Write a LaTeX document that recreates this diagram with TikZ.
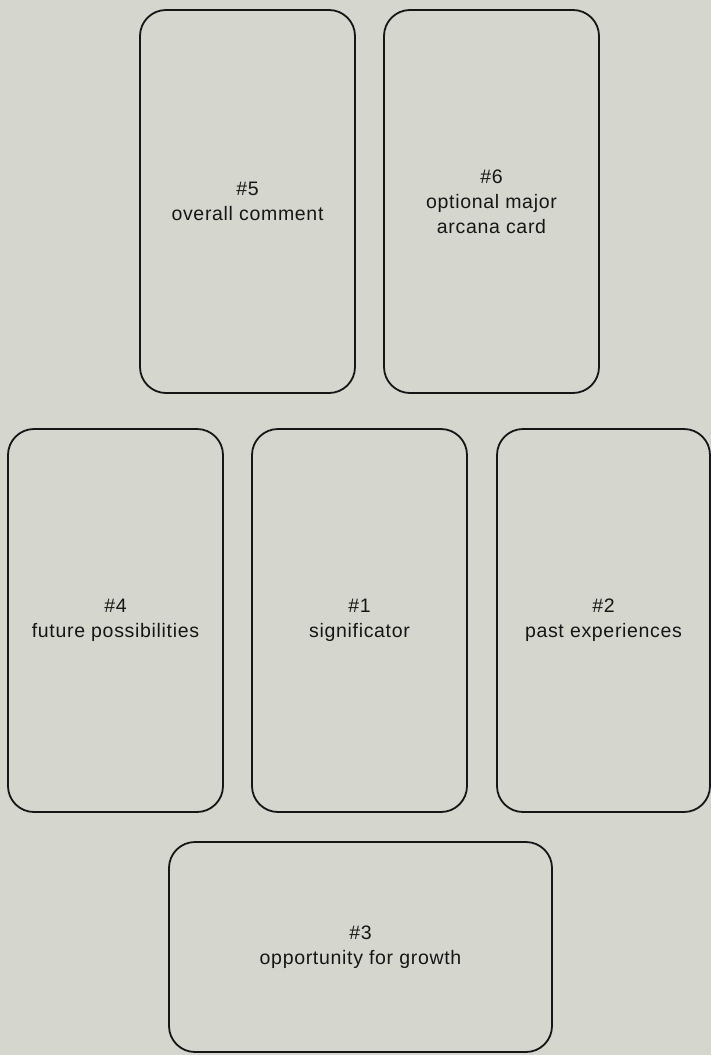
\documentclass[tikz,border=0pt]{standalone}
\usepackage{fontspec}
\setmainfont{Liberation Sans}[LetterSpace=3.5]
\definecolor{bg}{RGB}{213,214,206}
\definecolor{ink}{RGB}{22,22,22}
\begin{document}
\begin{tikzpicture}[x=1bp,y=-1bp,
  card/.style={draw=ink, line width=1.8bp, rounded corners=26bp, align=center,
    text=ink, inner sep=0pt, font=\fontsize{19.5bp}{25bp}\selectfont},
  tall/.style={card, minimum width=215bp, minimum height=383bp},
  wide/.style={card, minimum width=383bp, minimum height=210bp}]
\fill[bg] (0,0) rectangle (711,1055);
\useasboundingbox (0,0) rectangle (711,1055);
\node[tall] (c5) at (247.5,201.5) {\#5\\overall comment};
\node[tall] (c6) at (491.5,201.5) {\#6\\optional major\\arcana card};
\node[tall] (c4) at (115.5,620.5) {\#4\\future possibilities};
\node[tall] (c1) at (359.5,620.5) {\#1\\significator};
\node[tall, minimum width=213bp] (c2) at (603.5,620.5) {\#2\\past experiences};
\node[wide] (c3) at (360.5,947) {\#3\\opportunity for growth};
\end{tikzpicture}
\end{document}
